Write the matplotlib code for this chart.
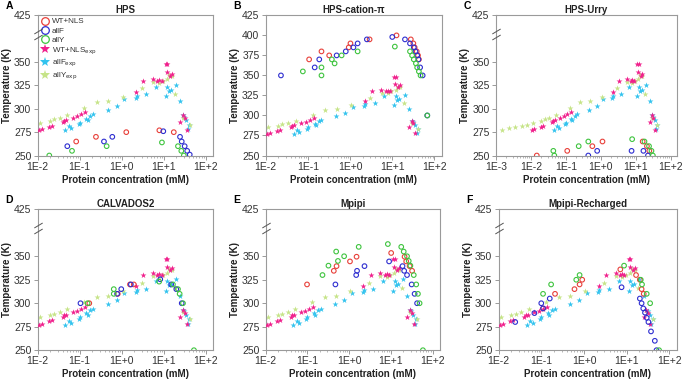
import numpy as np
import matplotlib
matplotlib.use("Agg")
import matplotlib.pyplot as plt
from matplotlib.lines import Line2D
from matplotlib.ticker import FixedLocator, LogLocator, FuncFormatter, NullLocator
import matplotlib.transforms as mtrans

plt.rcParams['font.family'] = ['Liberation Sans', 'DejaVu Sans']

# experimental data (same in every panel), concentration in mM, T in K
wt_exp_c = [0.0107, 0.0126, 0.019, 0.022, 0.040, 0.043, 0.048, 0.069, 0.089, 0.11, 0.138,
            2.2, 3.3, 5.5, 7.1, 7.9, 8.9, 11.2, 12.3, 11.7, 13.8, 15.5, 25.1, 28.8, 31.6, 35.5]
wt_exp_t = [277, 278, 281, 282, 285.5, 287, 288, 290.5, 292, 294, 296.5,
            318.5, 330, 332, 330, 331, 330, 347.5, 347.5, 339, 335, 337.5, 285.5, 293, 290, 277.5]
allf_exp_c = [0.046, 0.055, 0.063, 0.095, 0.10, 0.145, 0.155, 0.18, 0.21, 0.47, 0.76, 1.15,
              2.14, 2.3, 3.8, 6.5, 11.2, 12.3, 13.2, 14.8, 19.5, 25.1, 28.8, 30.9, 34.7, 38.0, 40.7]
allf_exp_t = [277, 281.5, 279, 283.5, 285, 289.5, 288, 292.5, 294, 298.8, 303.5, 311,
              312, 314, 315.5, 323.8, 313.5, 323.8, 319, 320.5, 325.9, 308, 293, 291.5, 288, 278, 283]
ally_exp_c = [0.00145, 0.0023, 0.0035, 0.0055, 0.0076, 0.0115, 0.020, 0.025, 0.034, 0.051, 0.13,
              0.26, 0.48, 1.05, 3.0, 5.6, 7.9, 9.5, 12.0, 13.5, 15.5, 18.6, 29.5, 41.7]
ally_exp_t = [277, 279, 280.5, 282, 283, 285, 287, 289, 290.5, 293.5, 301,
              307, 308, 313, 322, 328.5, 327.5, 330, 332, 336, 335, 316, 290.5, 283]

# simulations
titles = ["HPS", "HPS-cation-\u03c0", "HPS-Urry", "CALVADOS2", "Mpipi", "Mpipi-Recharged"]
letters = ["A", "B", "C", "D", "E", "F"]

hps_wt_c = [0.083, 0.245, 1.29, 7.9, 17.4]
hps_wt_t = [265, 270, 275, 277, 275]
hps_f_c = [0.051, 0.38, 0.60, 9.8, 24.5, 26.9, 31.6, 36.3, 41.7]
hps_f_t = [260, 265, 270, 276, 270, 265, 260, 255, 251]
hps_y_c = [0.019, 0.066, 0.44, 9.1, 21.9, 26.3, 30.2]
hps_y_t = [250, 255, 260, 264, 260, 255, 250]

cat_wt_c = [0.107, 0.21, 0.32, 0.93, 1.02, 2.9, 12.6, 27.5, 31.6, 33.9, 38.0, 40.7, 42.7]
cat_wt_t = [370, 380, 375, 385, 390, 395, 400, 395, 390, 385, 380, 375, 370]
cat_f_c = [0.023, 0.145, 0.186, 0.48, 0.79, 1.2, 1.51, 2.5, 10.0, 20.0, 26.3, 32.4, 35.5,
           38.9, 41.7, 45.7, 52.5, 67.6]
cat_f_t = [350, 360, 370, 375, 380, 385, 390, 395, 398, 395, 390, 385, 380, 375, 370, 360, 350, 300]
cat_y_c = [0.076, 0.21, 0.21, 0.37, 0.43, 0.63, 1.51, 11.5, 26.3, 29.5, 32.4, 36.3, 38.9,
           42.7, 46.8, 67.6]
cat_y_t = [355, 360, 350, 370, 365, 375, 380, 386, 380, 375, 370, 365, 360, 355, 350, 300]

urry_wt_c = [0.0148, 0.11, 0.575, 1.12, 15.8, 20.9, 24.5]
urry_wt_t = [250, 255, 260, 265, 265, 260, 255]
urry_f_c = [0.44, 0.79, 7.6, 16.6, 22.4]
urry_f_t = [250, 255, 255, 255, 250]
urry_y_c = [0.044, 0.047, 0.234, 0.44, 7.9, 17.8, 24.0, 28.2, 30.9]
urry_y_t = [255, 250, 260, 265, 267.5, 265, 260, 255, 250]

calv_wt_c = [0.17, 0.81, 1.58, 1.95]
calv_wt_t = [300, 310, 320, 320]
calv_f_c = [0.105, 0.78, 0.98, 1.66, 8.3, 15.1, 20.0, 26.9]
calv_f_t = [300, 310, 315, 320, 325.5, 320, 315, 300]
calv_y_c = [0.155, 0.65, 0.65, 7.8, 16.6, 21.9, 24.0, 28.8, 52.5]
calv_y_t = [300, 315, 310, 323, 320, 315, 310, 300, 250]

mpipi_wt_c = [0.098, 0.43, 0.50, 1.05, 1.51, 10.2, 21.4, 23.4, 28.2, 32.4]
mpipi_wt_t = [320, 334.5, 339.5, 344.5, 349.5, 353.5, 349.5, 344.5, 339.5, 334.5]
mpipi_f_c = [0.47, 1.48, 1.55, 2.34, 9.1, 19.1, 20.9, 24.5, 31.6, 37.2, 42.7]
mpipi_f_t = [320, 330, 334.5, 339.5, 344.5, 339.5, 334.5, 330, 320, 310, 300]
mpipi_y_c = [0.23, 0.32, 0.49, 0.54, 0.76, 1.7, 8.5, 17.8, 20.4, 24.5, 26.9, 29.5, 35.5,
             40.7, 44.7, 49.0, 58.9]
mpipi_y_t = [330, 340, 355, 345, 350, 360, 363, 360, 355, 350, 345, 340, 330, 320, 310, 300, 250]

rech_wt_c = [0.11, 0.21, 0.60, 0.79, 0.91, 7.1, 16.6, 20.4, 22.4, 25.1]
rech_wt_t = [294.5, 310, 315, 320, 325, 336, 330, 325, 315, 310]
rech_f_c = [0.0245, 0.069, 0.10, 0.11, 0.158, 7.6, 20.4, 22.4, 24.5, 26.9, 29.5, 32.4,
            37.2, 45.7, 50.1]
rech_f_t = [280, 289.5, 300, 294.5, 305, 317, 305, 300, 294.5, 290, 284.5, 280, 270, 260, 250]
rech_y_c = [0.11, 0.17, 0.66, 0.79, 8.7, 21.4, 22.9, 29.5, 35.5, 57.5]
rech_y_t = [310, 320, 325, 330, 340, 325, 320, 310, 300, 250]

sims = [
    (hps_wt_c, hps_wt_t, hps_f_c, hps_f_t, hps_y_c, hps_y_t),
    (cat_wt_c, cat_wt_t, cat_f_c, cat_f_t, cat_y_c, cat_y_t),
    (urry_wt_c, urry_wt_t, urry_f_c, urry_f_t, urry_y_c, urry_y_t),
    (calv_wt_c, calv_wt_t, calv_f_c, calv_f_t, calv_y_c, calv_y_t),
    (mpipi_wt_c, mpipi_wt_t, mpipi_f_c, mpipi_f_t, mpipi_y_c, mpipi_y_t),
    (rech_wt_c, rech_wt_t, rech_f_c, rech_f_t, rech_y_c, rech_y_t),
]

red, blue, green = '#e8403a', '#2e2ed0', '#3fc43f'
pink, cyan, lime = '#f0208c', '#33c3ee', '#c6e488'
spine_col = '#9a9a9a'

# axes rectangles (figure fraction)
rects = [
    [0.055, 0.595, 0.257, 0.365],
    [0.389, 0.595, 0.258, 0.365],
    [0.726, 0.595, 0.265, 0.365],
    [0.055, 0.088, 0.257, 0.367],
    [0.389, 0.088, 0.255, 0.367],
    [0.730, 0.088, 0.261, 0.367],
]


def fwd(y):
    y = np.asarray(y, dtype=float)
    return np.where(y <= 375, y, 375 + (y - 375) * 0.5)


def inv(u):
    u = np.asarray(u, dtype=float)
    return np.where(u <= 375, u, 375 + (u - 375) * 2.0)


def dec_fmt(v, pos):
    return "1E%+d" % int(round(np.log10(v)))


fig = plt.figure(figsize=(6.83, 3.84), dpi=100)

for i in range(6):
    ax = fig.add_axes(rects[i])
    wc, wt, fc, ft, yc, yt = sims[i]

    # experiments
    ax.scatter(wt_exp_c, wt_exp_t, marker='*', s=20, color=pink, linewidths=0, zorder=3)
    ax.scatter(allf_exp_c, allf_exp_t, marker='*', s=20, color=cyan, linewidths=0, zorder=2)
    ax.scatter(ally_exp_c, ally_exp_t, marker='*', s=20, color=lime, linewidths=0, zorder=2)
    # simulations
    ax.scatter(wc, wt, marker='o', s=11, facecolors='none', edgecolors=red, linewidths=0.8, zorder=4)
    ax.scatter(fc, ft, marker='o', s=11, facecolors='none', edgecolors=blue, linewidths=0.8, zorder=4)
    ax.scatter(yc, yt, marker='o', s=11, facecolors='none', edgecolors=green, linewidths=0.8, zorder=4)

    ax.set_xscale('log')
    if i == 2:
        ax.set_xlim(1e-3, 1.5e2)
        ax.xaxis.set_major_locator(FixedLocator([1e-3, 1e-2, 1e-1, 1, 10, 100]))
    else:
        ax.set_xlim(1e-2, 1.5e2)
        ax.xaxis.set_major_locator(FixedLocator([1e-2, 1e-1, 1, 10, 100]))
    ax.xaxis.set_minor_locator(LogLocator(base=10, subs=np.arange(2, 10)))
    ax.xaxis.set_major_formatter(FuncFormatter(dec_fmt))

    if i == 1:
        ax.set_ylim(250, 425)
        ax.set_yticks([250, 275, 300, 325, 350, 375, 400, 425])
    else:
        ax.set_yscale('function', functions=(fwd, inv))
        ax.set_ylim(250, 425)
        ax.set_yticks([250, 275, 300, 325, 350, 425])
        ax.yaxis.set_minor_locator(NullLocator())
        # axis break marks on the left spine
        tr = mtrans.blended_transform_factory(ax.transAxes, ax.transData)
        for dy in (-2, 2):
            off = mtrans.offset_copy(tr, fig=fig, y=dy, units='points')
            ax.plot([0], [385], marker=[(-1, -0.6), (1, 0.6)], markersize=6,
                    color='#555555', mew=0.7, transform=off, clip_on=False, zorder=6)

    for s in ax.spines.values():
        s.set_color(spine_col)
        s.set_linewidth(0.8)
    ax.tick_params(which='major', direction='out', length=3, width=0.7, color=spine_col,
                   labelsize=7.5, labelcolor='#333333', pad=1.5, top=False, right=False)
    ax.tick_params(which='minor', direction='out', length=1.6, width=0.5, color=spine_col,
                   top=False, right=False)

    ax.set_title(titles[i], fontsize=7, fontweight='bold', pad=1.5, color='#222222')
    ax.set_xlabel("Protein concentration (mM)", fontsize=7, fontweight='bold',
                  labelpad=2, color='#222222')
    ax.set_ylabel("Temperature (K)", fontsize=7, fontweight='bold', labelpad=1.5,
                  color='#222222')

    x0 = rects[i][0] - 0.047
    y0 = rects[i][1] + rects[i][3] + 0.012
    fig.text(x0, y0, letters[i], fontsize=7.5, fontweight='bold', va='bottom', ha='left')

    if i == 0:
        handles = [
            Line2D([], [], ls='none', marker='o', mfc='none', mec=red, mew=0.9, ms=5.5),
            Line2D([], [], ls='none', marker='o', mfc='none', mec=blue, mew=0.9, ms=5.5),
            Line2D([], [], ls='none', marker='o', mfc='none', mec=green, mew=0.9, ms=5.5),
            Line2D([], [], ls='none', marker='*', mfc=pink, mec=pink, mew=0, ms=7),
            Line2D([], [], ls='none', marker='*', mfc=cyan, mec=cyan, mew=0, ms=7),
            Line2D([], [], ls='none', marker='*', mfc=lime, mec=lime, mew=0, ms=7),
        ]
        labels = ["WT+NLS", "allF", "allY", "WT+NLS$_{\\rm exp}$", "allF$_{\\rm exp}$",
                  "allY$_{\\rm exp}$"]
        leg = ax.legend(handles, labels, loc='upper left', frameon=False, fontsize=5.8,
                        handletextpad=0.3, labelspacing=0.2, borderaxespad=0.1,
                        handlelength=1.2, borderpad=0.2)
        for t in leg.get_texts():
            t.set_color('#333333')

fig.savefig("out.png", dpi=100)
